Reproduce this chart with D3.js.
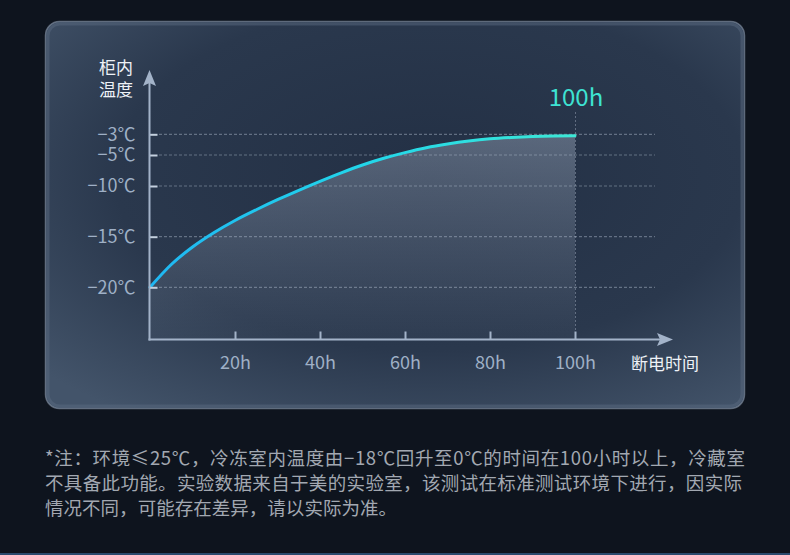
<!DOCTYPE html>
<html>
<head>
<meta charset="utf-8">
<script src="https://cdn.jsdelivr.net/npm/d3@7"></script>
<style>
  html, body { margin: 0; padding: 0; background: #0e141e; }
  svg { display: block; }
  text { font-family: "Noto Sans CJK SC", "Noto Sans", sans-serif; }
</style>
</head>
<body>
<svg id="chart" width="790" height="555"></svg>
<script>
// hours since power cut, and cabinet temperature
const hours = [0, 5, 10, 15, 20, 25, 30, 35, 40, 45, 50, 55, 60, 65, 70, 75, 80, 85, 90, 95, 100];
const temps = [-20, -17.75, -16.02, -14.61, -13.4, -12.34, -11.35, -10.42, -9.24, -7.87, -6.61,
               -5.53, -4.77, -4.3, -3.94, -3.65, -3.44, -3.31, -3.22, -3.17, -3.15];
const yTicks = [-20, -15, -10, -5, -3];
const xTicks = [20, 40, 60, 80, 100];
const yTitle = ["柜内", "温度"];
const xTitle = "断电时间";
const endLabel = "100h";
const notes = [
  "*注：环境≤25℃，冷冻室内温度由−18℃回升至0℃的时间在100小时以上，冷藏室",
  "不具备此功能。实验数据来自于美的实验室，该测试在标准测试环境下进行，因实际",
  "情况不同，可能存在差异，请以实际为准。"
];
const noteWidths = [700, 697, 352];

const data = hours.map((h, i) => ({h, t: temps[i]}));

const svg = d3.select("#chart");
const defs = svg.append("defs");

// the temperature axis is not even: the top ticks are squeezed together
const x = d3.scaleLinear().domain([0, 100]).range([150, 575]);
const y = d3.scaleLinear().domain(yTicks).range([287.3, 236.7, 186, 155, 134.3]);
const axisY = 339.5, axisX = 149.5;

// panel
const pg = defs.append("radialGradient").attr("id", "panel")
  .attr("cx", "55%").attr("cy", "40%").attr("r", "75%");
pg.append("stop").attr("offset", "0%").attr("stop-color", "#233045");
pg.append("stop").attr("offset", "60%").attr("stop-color", "#2a384d");
pg.append("stop").attr("offset", "100%").attr("stop-color", "#43546a");

svg.append("rect")
  .attr("x", 45.5).attr("y", 21.5).attr("width", 699).attr("height", 387)
  .attr("rx", 14)
  .attr("fill", "url(#panel)")
  .attr("stroke", "#7a889a").attr("stroke-opacity", 0.7).attr("stroke-width", 1.5);
svg.append("rect")
  .attr("x", 48).attr("y", 24).attr("width", 694).attr("height", 382)
  .attr("rx", 12)
  .attr("fill", "none")
  .attr("stroke", "#5a6a80").attr("stroke-opacity", 0.5).attr("stroke-width", 3);

// area under the curve
const ag = defs.append("linearGradient").attr("id", "area")
  .attr("gradientUnits", "userSpaceOnUse")
  .attr("x1", 0).attr("y1", 135).attr("x2", 0).attr("y2", 340);
ag.append("stop").attr("offset", "0%").attr("stop-color", "#c8d6ea").attr("stop-opacity", 0.32);
ag.append("stop").attr("offset", "100%").attr("stop-color", "#c8d6ea").attr("stop-opacity", 0.03);

const curve = d3.curveMonotoneX;
svg.append("path")
  .datum(data)
  .attr("fill", "url(#area)")
  .attr("d", d3.area().curve(curve).x(d => x(d.h)).y0(axisY).y1(d => y(d.t)));

// grid lines
svg.append("g").selectAll("line")
  .data(yTicks)
  .join("line")
  .attr("x1", 159).attr("x2", 655)
  .attr("y1", d => y(d)).attr("y2", d => y(d))
  .attr("stroke", "#b8c4d4").attr("stroke-opacity", 0.42)
  .attr("stroke-width", 1.2)
  .attr("stroke-dasharray", "3,2");

// marker at the end
svg.append("line")
  .attr("x1", x(100) + 0.5).attr("x2", x(100) + 0.5)
  .attr("y1", 112).attr("y2", axisY)
  .attr("stroke", "#b8c4d4").attr("stroke-opacity", 0.4)
  .attr("stroke-dasharray", "2,2");

svg.append("text")
  .attr("x", x(100) + 1).attr("y", 106)
  .attr("text-anchor", "middle")
  .attr("fill", "#3ee3d3")
  .attr("font-size", 24)
  .attr("font-family", "'Noto Sans', sans-serif")
  .text(endLabel);

// the curve
const lg = defs.append("linearGradient").attr("id", "line")
  .attr("gradientUnits", "userSpaceOnUse")
  .attr("x1", x(0)).attr("y1", 0).attr("x2", x(100)).attr("y2", 0);
lg.append("stop").attr("offset", "0%").attr("stop-color", "#1fb6f2");
lg.append("stop").attr("offset", "50%").attr("stop-color", "#22d6ea");
lg.append("stop").attr("offset", "100%").attr("stop-color", "#3ce8d6");

svg.append("path")
  .datum(data)
  .attr("fill", "none")
  .attr("stroke", "url(#line)")
  .attr("stroke-width", 3)
  .attr("stroke-linecap", "round")
  .attr("d", d3.line().curve(curve).x(d => x(d.h)).y(d => y(d.t)));

// axes
const axisColor = "#a3b3c9";
const labelColor = "#9fb0c6";

const gy = svg.append("g")
  .attr("transform", `translate(${axisX},0)`)
  .call(d3.axisLeft(y).tickValues(yTicks).tickSize(-8).tickPadding(14)
    .tickFormat(d => "−" + (-d) + "℃"));
gy.select(".domain").remove();
gy.selectAll(".tick line").attr("stroke", "#c4d0de").attr("stroke-width", 2);
gy.selectAll(".tick text")
  .attr("fill", labelColor)
  .attr("font-size", 18)
  .attr("font-family", "'Noto Sans', sans-serif");

const gx = svg.append("g")
  .attr("transform", `translate(0,${axisY})`)
  .call(d3.axisBottom(x).tickValues(xTicks).tickSize(-8).tickPadding(17)
    .tickFormat(d => d + "h"));
gx.select(".domain").remove();
gx.selectAll(".tick line").attr("stroke", axisColor).attr("stroke-width", 2);
gx.selectAll(".tick text")
  .attr("fill", labelColor)
  .attr("font-size", 18)
  .attr("font-family", "'Noto Sans', sans-serif");

svg.append("line")
  .attr("x1", axisX).attr("x2", axisX).attr("y1", axisY + 1).attr("y2", 82)
  .attr("stroke", axisColor).attr("stroke-width", 2);
svg.append("line")
  .attr("x1", axisX - 1).attr("x2", 662).attr("y1", axisY).attr("y2", axisY)
  .attr("stroke", axisColor).attr("stroke-width", 2);

svg.append("path")
  .attr("d", `M${axisX},70 L${axisX + 6.5},86 L${axisX},83 L${axisX - 6.5},86 Z`)
  .attr("fill", axisColor);
svg.append("path")
  .attr("d", `M673,${axisY} L657,${axisY - 6.5} L660,${axisY} L657,${axisY + 6.5} Z`)
  .attr("fill", axisColor);

// axis titles
svg.append("g").selectAll("text")
  .data(yTitle)
  .join("text")
  .attr("x", 116).attr("y", (d, i) => 74 + i * 22)
  .attr("text-anchor", "middle")
  .attr("fill", "#eef2f7")
  .attr("font-size", 17)
  .text(d => d);

svg.append("text")
  .attr("x", 665).attr("y", 370)
  .attr("text-anchor", "middle")
  .attr("fill", "#eef2f7")
  .attr("font-size", 17)
  .text(xTitle);

// footnote
svg.append("g").selectAll("text")
  .data(notes)
  .join("text")
  .attr("x", 45).attr("y", (d, i) => 465 + i * 25)
  .attr("fill", "#a2a8b1")
  .attr("font-size", 18.5)
  .attr("textLength", (d, i) => noteWidths[i])
  .attr("lengthAdjust", "spacing")
  .text(d => d);

// thin bottom edge
svg.append("rect")
  .attr("x", 0).attr("y", 553).attr("width", 790).attr("height", 2)
  .attr("fill", "#2a4a6e");
</script>
</body>
</html>
